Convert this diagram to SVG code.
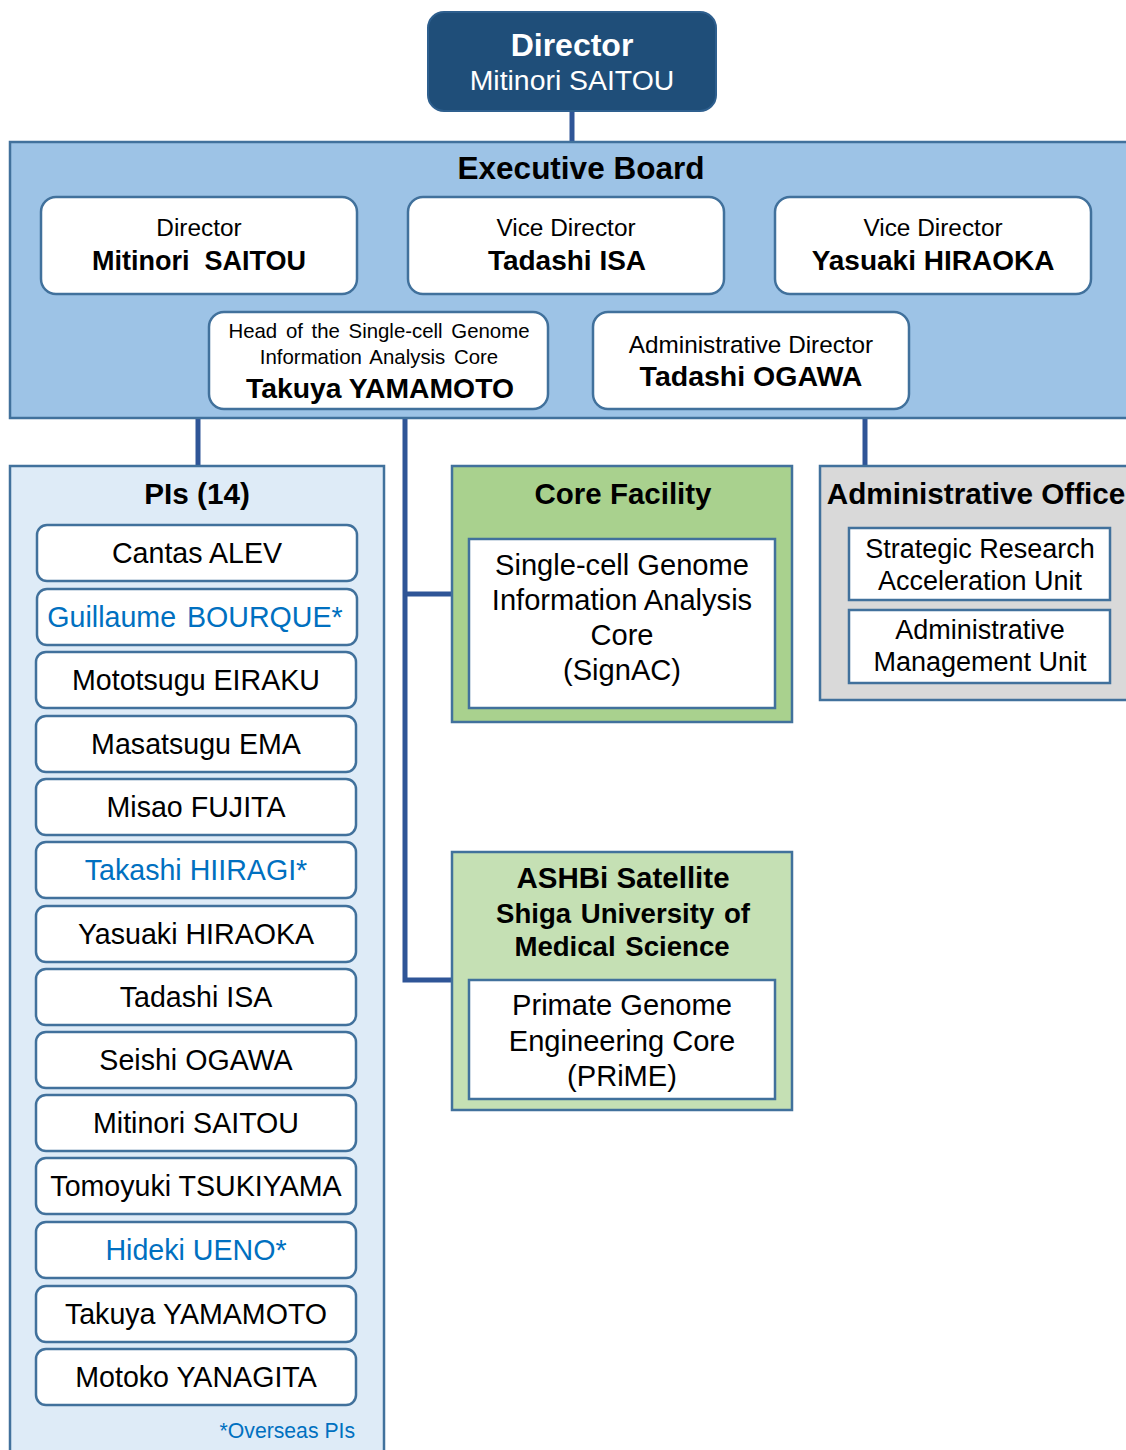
<svg xmlns="http://www.w3.org/2000/svg" width="1126" height="1450" viewBox="0 0 1126 1450">
  <style>
    text { font-family: "Liberation Sans", Arial, sans-serif; text-anchor: middle; fill: #000; }
    .b { font-weight: bold; }
    .panel { stroke: #41719C; stroke-width: 2.5; }
    .card { fill: #fff; stroke: #41719C; stroke-width: 2.5; }
    .link { fill: none; stroke: #2F5597; stroke-width: 5; }
    .os { fill: #0070C0; }
    .pi { font-size: 28.6px; }
  </style>

  <!-- connectors -->
  <g id="connectors">
    <line class="link" x1="572" y1="110" x2="572" y2="142"/>
    <line class="link" x1="198" y1="418" x2="198" y2="466"/>
    <polyline class="link" points="405,418 405,980 453,980"/>
    <line class="link" x1="405" y1="594" x2="453" y2="594"/>
    <line class="link" x1="865" y1="418" x2="865" y2="466"/>
  </g>

  <!-- top director -->
  <g id="director">
    <rect x="428" y="12" width="288" height="99" rx="16" fill="#1F4E79" stroke="#2E5F8E" stroke-width="2"/>
    <text x="572" y="56" class="b" font-size="32" style="fill:#fff">Director</text>
    <text x="572" y="90" font-size="28.4" style="fill:#fff">Mitinori SAITOU</text>
  </g>

  <!-- executive board -->
  <g id="executive-board">
    <rect class="panel" x="10" y="142" width="1125" height="276" fill="#9DC3E6"/>
    <text x="581" y="179" class="b" font-size="31.5">Executive Board</text>
  </g>
  <g id="eb-director">
    <rect class="card" x="41" y="197" width="316" height="97" rx="15"/>
    <text x="199" y="236" font-size="24.4">Director</text>
    <text x="199" y="270" class="b" font-size="27" xml:space="preserve">Mitinori  SAITOU</text>
  </g>
  <g id="eb-vice-isa">
    <rect class="card" x="408" y="197" width="316" height="97" rx="15"/>
    <text x="566" y="236" font-size="24.4">Vice Director</text>
    <text x="567" y="270" class="b" font-size="28">Tadashi ISA</text>
  </g>
  <g id="eb-vice-hiraoka">
    <rect class="card" x="775" y="197" width="316" height="97" rx="15"/>
    <text x="933" y="236" font-size="24.4">Vice Director</text>
    <text x="933" y="270" class="b" font-size="28">Yasuaki HIRAOKA</text>
  </g>
  <g id="eb-head-signac">
    <rect class="card" x="209" y="312" width="339" height="97" rx="15"/>
    <text x="379" y="338" font-size="20.4" word-spacing="3">Head of the Single-cell Genome</text>
    <text x="379" y="364" font-size="20.4" word-spacing="3">Information Analysis Core</text>
    <text x="380" y="398" class="b" font-size="28.3">Takuya YAMAMOTO</text>
  </g>
  <g id="eb-admin-director">
    <rect class="card" x="593" y="312" width="316" height="97" rx="15"/>
    <text x="751" y="353" font-size="24.3">Administrative Director</text>
    <text x="751" y="386" class="b" font-size="28.5">Tadashi OGAWA</text>
  </g>

  <!-- principal investigators -->
  <g id="pis">
    <rect class="panel" x="10" y="466" width="374" height="1000" fill="#DEEBF7"/>
    <text x="197" y="504" class="b" font-size="29.7">PIs (14)</text>
    <g id="pi-alev"><rect class="card" x="37" y="525" width="320" height="56" rx="10"/><text x="197" y="563" class="pi">Cantas ALEV</text></g>
    <g id="pi-bourque"><rect class="card" x="37" y="589" width="320" height="56" rx="10"/><text x="195" y="627" class="pi os" word-spacing="3">Guillaume BOURQUE*</text></g>
    <g id="pi-eiraku"><rect class="card" x="36" y="652" width="320" height="56" rx="10"/><text x="196" y="690" class="pi">Mototsugu EIRAKU</text></g>
    <g id="pi-ema"><rect class="card" x="36" y="716" width="320" height="56" rx="10"/><text x="196" y="754" class="pi">Masatsugu EMA</text></g>
    <g id="pi-fujita"><rect class="card" x="36" y="779" width="320" height="56" rx="10"/><text x="196" y="817" class="pi">Misao FUJITA</text></g>
    <g id="pi-hiiragi"><rect class="card" x="36" y="842" width="320" height="56" rx="10"/><text x="196" y="880" class="pi os">Takashi HIIRAGI*</text></g>
    <g id="pi-hiraoka"><rect class="card" x="36" y="906" width="320" height="56" rx="10"/><text x="196" y="944" class="pi">Yasuaki HIRAOKA</text></g>
    <g id="pi-isa"><rect class="card" x="36" y="969" width="320" height="56" rx="10"/><text x="196" y="1007" class="pi">Tadashi ISA</text></g>
    <g id="pi-ogawa"><rect class="card" x="36" y="1032" width="320" height="56" rx="10"/><text x="196" y="1070" class="pi">Seishi OGAWA</text></g>
    <g id="pi-saitou"><rect class="card" x="36" y="1095" width="320" height="56" rx="10"/><text x="196" y="1133" class="pi">Mitinori SAITOU</text></g>
    <g id="pi-tsukiyama"><rect class="card" x="36" y="1158" width="320" height="56" rx="10"/><text x="196" y="1196" class="pi">Tomoyuki TSUKIYAMA</text></g>
    <g id="pi-ueno"><rect class="card" x="36" y="1222" width="320" height="56" rx="10"/><text x="196" y="1260" class="pi os">Hideki UENO*</text></g>
    <g id="pi-yamamoto"><rect class="card" x="36" y="1286" width="320" height="56" rx="10"/><text x="196" y="1324" class="pi">Takuya YAMAMOTO</text></g>
    <g id="pi-yanagita"><rect class="card" x="36" y="1349" width="320" height="56" rx="10"/><text x="196" y="1387" class="pi">Motoko YANAGITA</text></g>
    <text x="355" y="1438" font-size="21.2" class="os" style="text-anchor:end">*Overseas PIs</text>
  </g>

  <!-- core facility -->
  <g id="core-facility">
    <rect class="panel" x="452" y="466" width="340" height="256" fill="#A9D18E"/>
    <text x="623" y="504" class="b" font-size="29.5">Core Facility</text>
    <rect x="469" y="539" width="306" height="169" fill="#fff" stroke="#41719C" stroke-width="2.5"/>
    <text x="622" y="575" font-size="29.1">Single-cell Genome</text>
    <text x="622" y="610" font-size="29.1">Information Analysis</text>
    <text x="622" y="645" font-size="29.1">Core</text>
    <text x="622" y="680" font-size="29.1">(SignAC)</text>
  </g>

  <!-- ASHBi satellite -->
  <g id="ashbi-satellite">
    <rect class="panel" x="452" y="852" width="340" height="258" fill="#C5E0B4"/>
    <text x="623" y="888" class="b" font-size="29.5">ASHBi Satellite</text>
    <text x="623" y="923" class="b" font-size="27.6" word-spacing="2">Shiga University of</text>
    <text x="622" y="956" class="b" font-size="27.6" word-spacing="2">Medical Science</text>
    <rect x="469" y="980" width="306" height="119" fill="#fff" stroke="#41719C" stroke-width="2.5"/>
    <text x="622" y="1015" font-size="29.1">Primate Genome</text>
    <text x="622" y="1051" font-size="29.1">Engineering Core</text>
    <text x="622" y="1086" font-size="29.1">(PRiME)</text>
  </g>

  <!-- administrative office -->
  <g id="admin-office">
    <rect class="panel" x="820" y="466" width="315" height="234" fill="#D9D9D9"/>
    <text x="976" y="504" class="b" font-size="29.7">Administrative Office</text>
    <rect x="849" y="528" width="261" height="72" fill="#fff" stroke="#41719C" stroke-width="2.5"/>
    <text x="980" y="558" font-size="27">Strategic Research</text>
    <text x="980" y="590" font-size="27">Acceleration Unit</text>
    <rect x="849" y="610" width="261" height="73" fill="#fff" stroke="#41719C" stroke-width="2.5"/>
    <text x="980" y="639" font-size="27">Administrative</text>
    <text x="980" y="671" font-size="27">Management Unit</text>
  </g>
</svg>
